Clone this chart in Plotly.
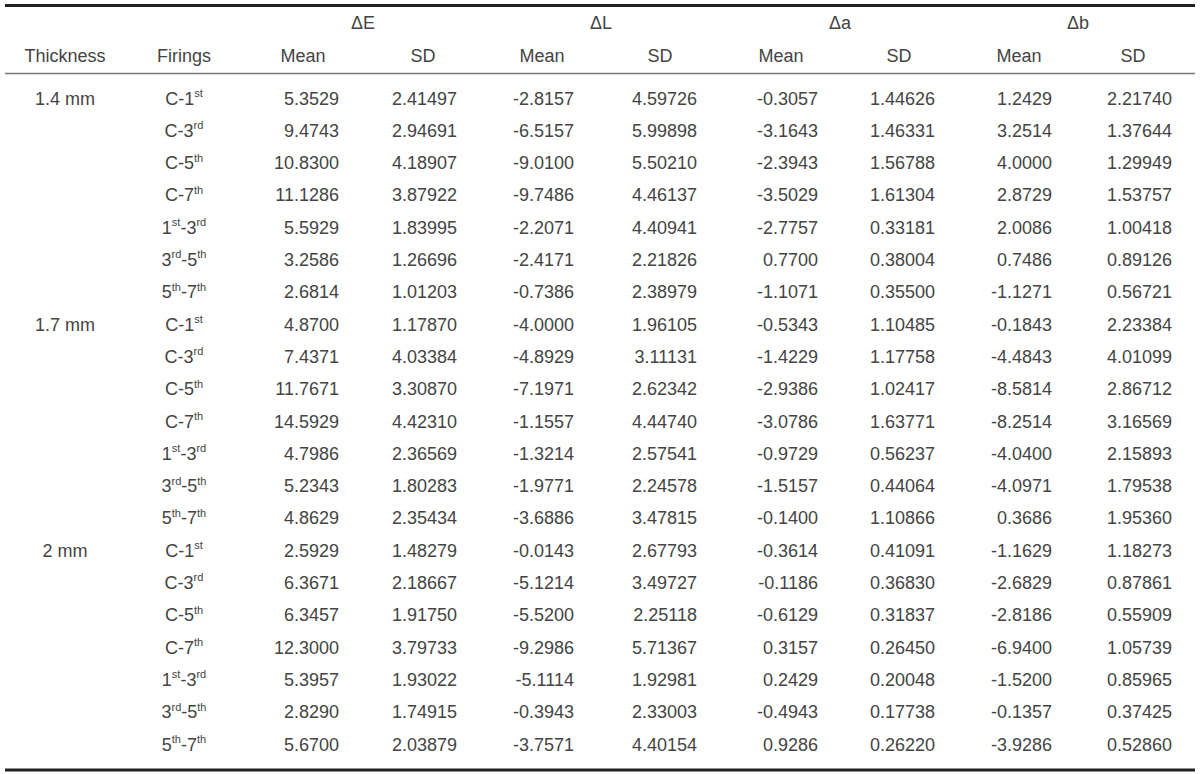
import plotly.graph_objects as go

# ---------------- data ----------------
thickness = ["1.4 mm", "1.7 mm", "2 mm"]
firing_parts = [("C-1", "st", "", ""), ("C-3", "rd", "", ""), ("C-5", "th", "", ""), ("C-7", "th", "", ""),
                ("1", "st", "-3", "rd"), ("3", "rd", "-5", "th"), ("5", "th", "-7", "th")]
delta_labels = ["ΔE", "ΔL", "Δa", "Δb"]
stat_labels = ["Mean", "SD"]

dE_mean = [5.3529, 9.4743, 10.8300, 11.1286, 5.5929, 3.2586, 2.6814,
           4.8700, 7.4371, 11.7671, 14.5929, 4.7986, 5.2343, 4.8629,
           2.5929, 6.3671, 6.3457, 12.3000, 5.3957, 2.8290, 5.6700]
dE_sd = [2.41497, 2.94691, 4.18907, 3.87922, 1.83995, 1.26696, 1.01203,
         1.17870, 4.03384, 3.30870, 4.42310, 2.36569, 1.80283, 2.35434,
         1.48279, 2.18667, 1.91750, 3.79733, 1.93022, 1.74915, 2.03879]
dL_mean = [-2.8157, -6.5157, -9.0100, -9.7486, -2.2071, -2.4171, -0.7386,
           -4.0000, -4.8929, -7.1971, -1.1557, -1.3214, -1.9771, -3.6886,
           -0.0143, -5.1214, -5.5200, -9.2986, -5.1114, -0.3943, -3.7571]
dL_sd = [4.59726, 5.99898, 5.50210, 4.46137, 4.40941, 2.21826, 2.38979,
         1.96105, 3.11131, 2.62342, 4.44740, 2.57541, 2.24578, 3.47815,
         2.67793, 3.49727, 2.25118, 5.71367, 1.92981, 2.33003, 4.40154]
da_mean = [-0.3057, -3.1643, -2.3943, -3.5029, -2.7757, 0.7700, -1.1071,
           -0.5343, -1.4229, -2.9386, -3.0786, -0.9729, -1.5157, -0.1400,
           -0.3614, -0.1186, -0.6129, 0.3157, 0.2429, -0.4943, 0.9286]
da_sd = [1.44626, 1.46331, 1.56788, 1.61304, 0.33181, 0.38004, 0.35500,
         1.10485, 1.17758, 1.02417, 1.63771, 0.56237, 0.44064, 1.10866,
         0.41091, 0.36830, 0.31837, 0.26450, 0.20048, 0.17738, 0.26220]
db_mean = [1.2429, 3.2514, 4.0000, 2.8729, 2.0086, 0.7486, -1.1271,
           -0.1843, -4.4843, -8.5814, -8.2514, -4.0400, -4.0971, 0.3686,
           -1.1629, -2.6829, -2.8186, -6.9400, -1.5200, -0.1357, -3.9286]
db_sd = [2.21740, 1.37644, 1.29949, 1.53757, 1.00418, 0.89126, 0.56721,
         2.23384, 4.01099, 2.86712, 3.16569, 2.15893, 1.79538, 1.95360,
         1.18273, 0.87861, 0.55909, 1.05739, 0.85965, 0.37425, 0.52860]

value_columns = [(dE_mean, 4), (dE_sd, 5), (dL_mean, 4), (dL_sd, 5),
                 (da_mean, 4), (da_sd, 5), (db_mean, 4), (db_sd, 5)]

# ---------------- layout constants (screen pixel space) ----------------
W, H = 1200, 774
FONT = "Liberation Sans"
SIZE = 18
SUP_SIZE = 11
COLOR = "#444444"

x_thick = 65
x_fir = 184
x_value_right = [339, 457, 574, 697, 818, 935, 1052, 1172]
x_stat_center = [303, 423, 542, 660, 781, 899, 1019, 1133]
x_delta_center = [363, 601, 840, 1078]

y_head1 = 24
y_head2 = 57
y_row0 = 100
row_step = 32.3

n_rows = len(dE_mean)
row_y = [y_row0 + i * row_step for i in range(n_rows)]
n_fir = len(firing_parts)


def sup(s):
    return f"<sup><span style='font-size:{SUP_SIZE}px'>{s}</span></sup>" if s else ""


firings = [a + sup(b) + c + sup(d) for a, b, c, d in firing_parts]

fig = go.Figure()


def add_text(xs, ys, texts, pos):
    fig.add_trace(go.Scatter(
        x=xs, y=ys, text=texts, mode="text", textposition=pos,
        textfont=dict(family=FONT, size=SIZE, color=COLOR),
        hoverinfo="skip", showlegend=False, cliponaxis=False))


# headers
add_text(x_delta_center, [y_head1] * 4, delta_labels, "middle center")
add_text([x_thick, x_fir], [y_head2] * 2, ["Thickness", "Firings"], "middle center")
add_text(x_stat_center, [y_head2] * 8, stat_labels * 4, "middle center")

# thickness labels (first row of each group)
add_text([x_thick] * len(thickness), [row_y[i * n_fir] for i in range(len(thickness))],
         thickness, "middle center")

# firing labels
add_text([x_fir] * n_rows, row_y, [firings[i % n_fir] for i in range(n_rows)], "middle center")

# values (right aligned)
for (vals, dec), xr in zip(value_columns, x_value_right):
    add_text([xr] * n_rows, row_y, [f"{v:.{dec}f}" for v in vals], "middle left")

# rules
fig.add_shape(type="line", x0=5, x1=1195, y0=5.5, y1=5.5, line=dict(color="#222222", width=3))
fig.add_shape(type="line", x0=5, x1=1195, y0=73.5, y1=73.5, line=dict(color="#777777", width=1.5))
fig.add_shape(type="line", x0=5, x1=1195, y0=770, y1=770, line=dict(color="#222222", width=3))

fig.update_layout(
    width=W, height=H,
    margin=dict(l=0, r=0, t=0, b=0),
    paper_bgcolor="white", plot_bgcolor="white",
    xaxis=dict(range=[0, W], visible=False, fixedrange=True),
    yaxis=dict(range=[H, 0], visible=False, fixedrange=True),
)

fig.write_html("out.html",
               config={"displayModeBar": False, "staticPlot": True},
               post_script="document.body.style.margin='0';document.body.style.overflow='hidden';")
